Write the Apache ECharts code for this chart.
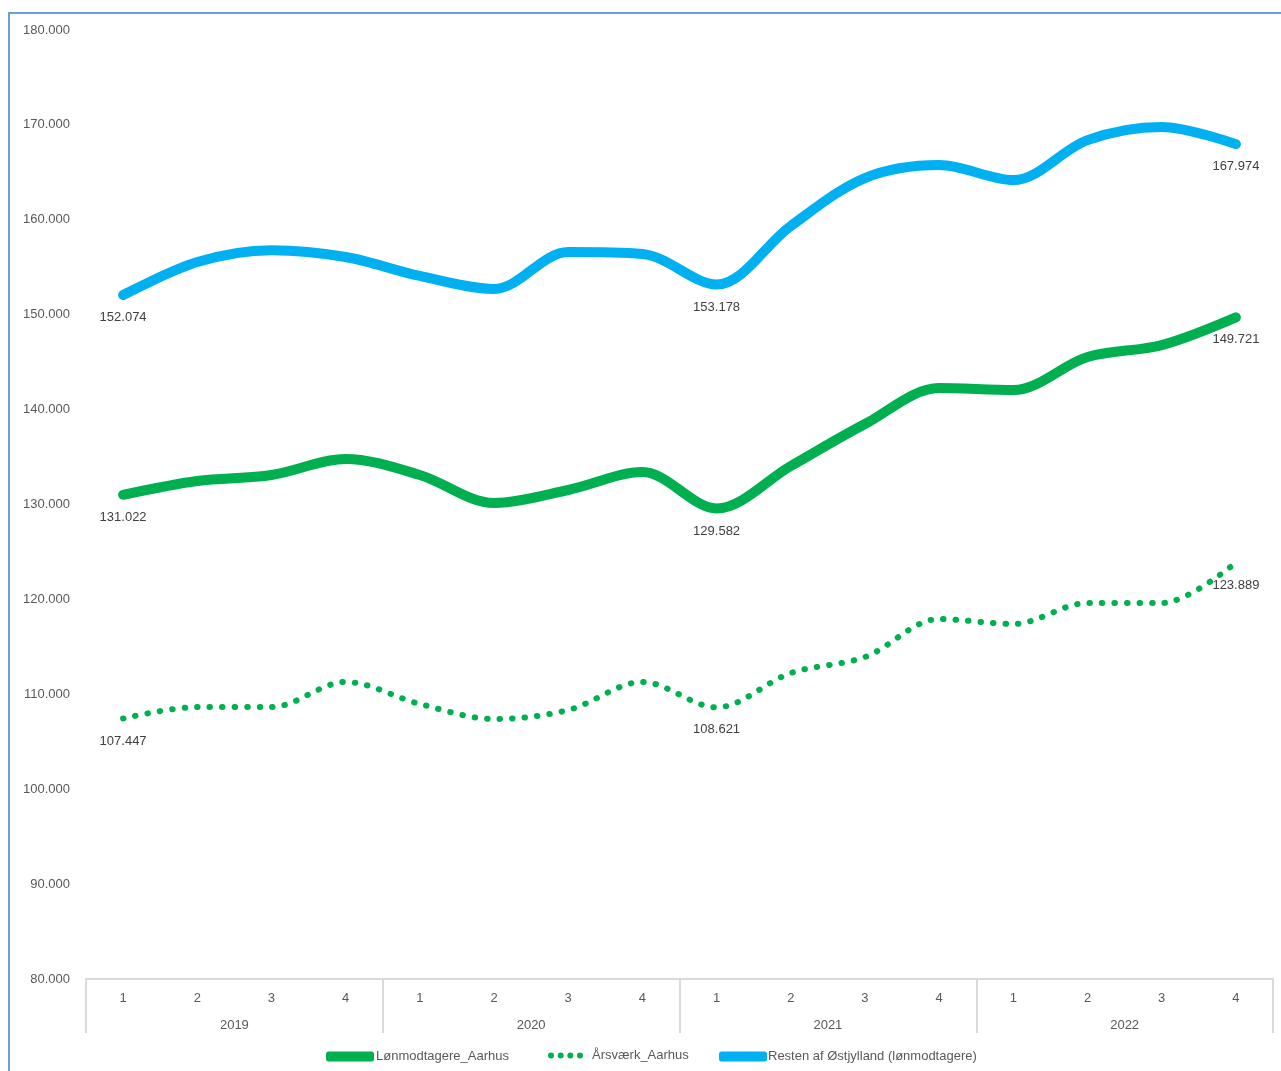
<!DOCTYPE html>
<html>
<head>
<meta charset="utf-8">
<script src="https://cdn.jsdelivr.net/npm/echarts@6/dist/echarts.min.js"></script>
<style>
html,body{margin:0;padding:0;background:#fff;}
#wrap{position:relative;width:1281px;height:1071px;overflow:hidden;}
#chart{position:absolute;left:0;top:0;width:1281px;height:1071px;}
#frame{position:absolute;left:8px;top:12px;right:-10px;bottom:-10px;border-left:2px solid #6a9fd8;border-top:2px solid #6a9fd8;pointer-events:none;}
</style>
</head>
<body>
<div id="wrap"><div id="chart"></div><div id="frame"></div></div>
<script>
const quarters = ['1','2','3','4','1','2','3','4','1','2','3','4','1','2','3','4'];
const years = ['2019','2020','2021','2022'];
const yTicks = {min: 80000, max: 180000, interval: 10000};

const lonmodtagereAarhus = [131022,132480,133110,134800,133110,130160,131530,133420,129582,134060,138480,142270,142060,145540,146800,149721];
const aarsvaerkAarhus   = [107447,108660,108660,111300,108980,107400,108340,111300,108621,112240,113930,117930,117410,119620,119620,123889];
const restenOstjylland  = [152074,155550,156800,156080,154080,152710,156600,156400,153178,159350,164400,165770,164190,168400,169780,167974];
const labelIdx = [0, 8, 15];

const fmt = v => String(Math.round(v)).replace(/\B(?=(\d{3})+(?!\d))/g, '.');
const FONT = 'Liberation Sans';
const TXT = '#595959';

function labelled(arr){
  return arr.map((v,i)=> labelIdx.includes(i) ? {value:v, label:{show:true}} : v);
}
const lblStyle = {show:false, position:'bottom', distance:16, color:'#404040', fontSize:13, fontFamily:FONT, formatter:p=>fmt(p.value)};

const chart = echarts.init(document.getElementById('chart'), null, {renderer:'canvas'});
const dotsPath = 'path://M0,3a3,3 0 1,0 6,0a3,3 0 1,0 -6,0Z M9.67,3a3,3 0 1,0 6,0a3,3 0 1,0 -6,0Z M19.33,3a3,3 0 1,0 6,0a3,3 0 1,0 -6,0Z M29,3a3,3 0 1,0 6,0a3,3 0 1,0 -6,0Z';
const legText = {color:TXT, fontSize:13, fontFamily:FONT, padding:[0,0,0,-3]};

const common = {type:'line', xAxisIndex:0, smooth:0.33, showSymbol:true, symbol:'circle', symbolSize:0.01};

chart.setOption({
  animation:false,
  backgroundColor:'#fff',
  grid:{left:86, right:8, top:30, bottom:92, containLabel:false},
  legend:[
    {left:321, top:1045, itemWidth:48, itemHeight:10, textStyle:legText, data:[{name:'Lønmodtagere_Aarhus', icon:'roundRect'}]},
    {left:543, top:1044, itemWidth:35, itemHeight:6, textStyle:Object.assign({},legText,{padding:[3,0,0,4]}), data:[{name:'Årsværk_Aarhus', icon:dotsPath}]},
    {left:714, top:1045, itemWidth:48, itemHeight:10, textStyle:Object.assign({},legText,{padding:[0,0,0,-4]}), data:[{name:'Resten af Østjylland (lønmodtagere)', icon:'roundRect'}]}
  ],
  xAxis:[
    {type:'category', data:quarters, boundaryGap:true, position:'bottom',
     axisLine:{show:true, lineStyle:{color:'#d9d9d9', width:2}},
     axisTick:{show:false},
     axisLabel:{interval:0, margin:13, color:TXT, fontSize:13, fontFamily:FONT},
     splitLine:{show:false}},
    {type:'category', data:years, boundaryGap:true, position:'bottom',
     axisLine:{show:true, lineStyle:{color:'#d9d9d9', width:2}},
     axisTick:{show:true, interval:0, length:54, lineStyle:{color:'#d9d9d9', width:2}},
     axisLabel:{interval:0, margin:40, color:TXT, fontSize:13, fontFamily:FONT},
     splitLine:{show:false}}
  ],
  yAxis:{type:'value', min:yTicks.min, max:yTicks.max, interval:yTicks.interval,
    axisLine:{show:false}, axisTick:{show:false}, splitLine:{show:false},
    axisLabel:{margin:16, color:TXT, fontSize:13, fontFamily:FONT, formatter:v=>fmt(v)}},
  series:[
    Object.assign({}, common, {name:'Lønmodtagere_Aarhus', data:labelled(lonmodtagereAarhus), color:'#00b050',
     lineStyle:{width:10, color:'#00b050', cap:'round', join:'round'}, label:lblStyle}),
    Object.assign({}, common, {name:'Årsværk_Aarhus', data:labelled(aarsvaerkAarhus), color:'#00b050',
     lineStyle:{width:6, color:'#00b050', type:[0.5,12], cap:'round', join:'round'}, label:lblStyle}),
    Object.assign({}, common, {name:'Resten af Østjylland (lønmodtagere)', data:labelled(restenOstjylland), color:'#00b0f0',
     lineStyle:{width:10, color:'#00b0f0', cap:'round', join:'round'}, label:lblStyle})
  ]
});
</script>
</body>
</html>
